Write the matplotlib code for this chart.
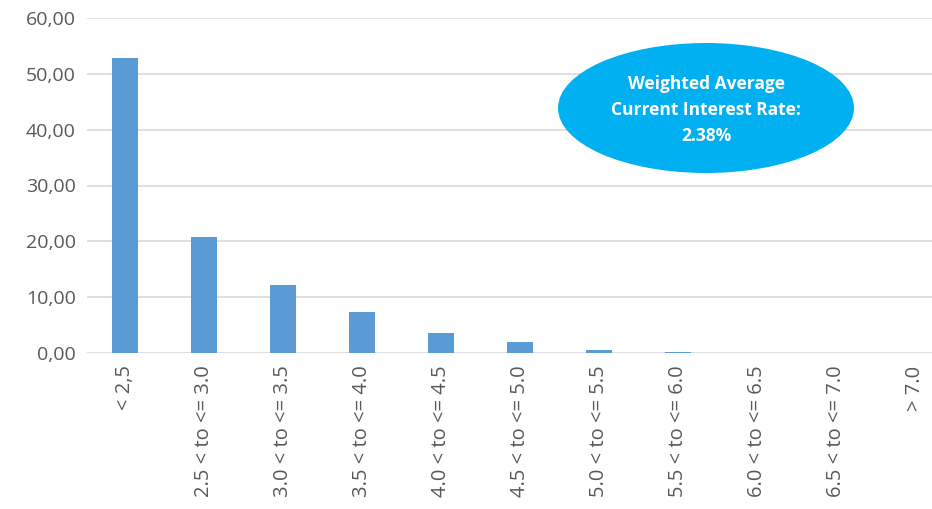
import matplotlib
matplotlib.use("Agg")
import matplotlib.pyplot as plt
from matplotlib.patches import Ellipse

categories = ["< 2,5", "2.5 < to <= 3.0", "3.0 < to <= 3.5", "3.5 < to <= 4.0",
              "4.0 < to <= 4.5", "4.5 < to <= 5.0", "5.0 < to <= 5.5", "5.5 < to <= 6.0",
              "6.0 < to <= 6.5", "6.5 < to <= 7.0", "> 7.0"]
values = [52.8, 20.8, 12.2, 7.3, 3.6, 2.0, 0.5, 0.1, 0.0, 0.0, 0.0]
yticks = [0, 10, 20, 30, 40, 50, 60]
ytick_labels = ["0,00", "10,00", "20,00", "30,00", "40,00", "50,00", "60,00"]
note = "Weighted Average\nCurrent Interest Rate:\n2.38%"

plt.rcParams['font.family'] = ['Open Sans', 'DejaVu Sans']

W, H = 932, 509
fig = plt.figure(figsize=(W / 100, H / 100), dpi=100)
left, right, bottom, top = 87, 932, 353, 18
ax = fig.add_axes([left / W, 1 - bottom / H, (right - left) / W, (bottom - top) / H])

x = list(range(len(categories)))
ax.bar(x, values, width=0.32, color="#5B9BD5", zorder=3)
ax.set_xlim(-0.48, 10.215)
ax.set_ylim(0, 60)
ax.set_yticks(yticks)
ax.set_yticklabels(ytick_labels, fontsize=14, color="#595959")
ax.set_xticks(x)
ax.set_xticklabels(categories, rotation=90, fontsize=14.5, color="#595959", va="top")
ax.tick_params(axis="both", length=0)
ax.tick_params(axis="x", pad=9)
ax.tick_params(axis="y", pad=8)
ax.grid(axis="y", color="#D9D9D9", linewidth=1.2, zorder=0)
for s in ax.spines.values():
    s.set_visible(False)

# ellipse annotation in figure pixel coords
ell = Ellipse((706 / W, 1 - 108 / H), 296 / W, 130 / H, transform=fig.transFigure,
              facecolor="#00B0F0", edgecolor="none", zorder=5)
fig.patches.append(ell)
fig.text(706 / W, 1 - 110 / H, note, ha="center", va="center", color="white",
         fontsize=12.5, fontweight="bold", linespacing=1.55, zorder=6)

fig.savefig("out.png", dpi=100)
